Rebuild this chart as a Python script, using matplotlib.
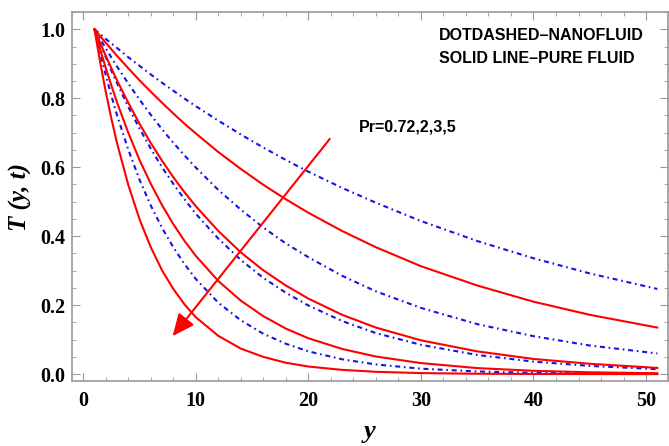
import matplotlib.pyplot as plt
from matplotlib.ticker import MultipleLocator

# y positions where the curves were read
y_pts = [1, 1.5, 2, 2.5, 3, 4, 5, 6, 7, 8, 9, 10, 12, 14, 16, 18, 20, 23, 26, 30, 35, 40, 45, 51]

# solid lines - pure fluid, Pr = 0.72, 2, 3, 5
pure_072 = [1.0, 0.980, 0.961, 0.942, 0.923, 0.887, 0.852, 0.819, 0.787, 0.756, 0.726, 0.698,
            0.644, 0.595, 0.549, 0.507, 0.468, 0.415, 0.368, 0.313, 0.257, 0.210, 0.172, 0.135]
pure_2 = [1.0, 0.961, 0.923, 0.887, 0.852, 0.787, 0.726, 0.670, 0.619, 0.571, 0.527, 0.487,
          0.415, 0.353, 0.301, 0.257, 0.219, 0.172, 0.135, 0.098, 0.066, 0.044, 0.030, 0.018]
pure_3 = [1.0, 0.942, 0.888, 0.837, 0.788, 0.700, 0.621, 0.552, 0.490, 0.435, 0.386, 0.343,
          0.270, 0.213, 0.168, 0.132, 0.104, 0.073, 0.051, 0.032, 0.0175, 0.0096, 0.0053, 0.0026]
pure_5 = [1.0, 0.905, 0.819, 0.741, 0.670, 0.549, 0.449, 0.368, 0.301, 0.247, 0.202, 0.165,
          0.111, 0.074, 0.050, 0.033, 0.022, 0.0123, 0.0067, 0.0030, 0.0011, 0.0004, 0.00015, 0.00005]

# dot-dashed lines - nanofluid
nano_072 = [1.0, 0.986, 0.972, 0.959, 0.946, 0.919, 0.894, 0.869, 0.845, 0.822, 0.799, 0.777,
            0.735, 0.695, 0.657, 0.621, 0.587, 0.540, 0.497, 0.444, 0.386, 0.336, 0.292, 0.247]
nano_2 = [1.0, 0.972, 0.945, 0.918, 0.892, 0.843, 0.796, 0.752, 0.710, 0.671, 0.634, 0.599,
          0.534, 0.477, 0.425, 0.379, 0.339, 0.285, 0.240, 0.192, 0.145, 0.110, 0.083, 0.060]
nano_3 = [1.0, 0.958, 0.919, 0.880, 0.844, 0.775, 0.712, 0.654, 0.600, 0.552, 0.507, 0.465,
          0.393, 0.331, 0.279, 0.236, 0.199, 0.154, 0.119, 0.085, 0.0556, 0.0363, 0.0238, 0.0143]
nano_5 = [1.0, 0.931, 0.867, 0.807, 0.751, 0.651, 0.564, 0.489, 0.424, 0.368, 0.319, 0.276,
          0.207, 0.156, 0.117, 0.088, 0.066, 0.043, 0.028, 0.0158, 0.0077, 0.0038, 0.0019, 0.0008]

pure = [pure_072, pure_2, pure_3, pure_5]
nano = [nano_072, nano_2, nano_3, nano_5]

fig = plt.figure(figsize=(6.69, 4.46), dpi=100)
ax = fig.add_axes([0.1076, 0.1457, 0.8909, 0.8273])

for t in nano:
    ax.plot(y_pts, t, color='#1414e6', lw=1.5, dashes=(2.4, 1.8, 0.8, 1.8))
for t in pure:
    ax.plot(y_pts, t, color='#ff0000', lw=1.5)

# Pr arrow
ax.annotate('', xy=(7.94, 0.11), xytext=(21.9, 0.682),
            arrowprops=dict(arrowstyle='-|>,head_length=0.45,head_width=0.2',
                            color='#ff0000', lw=1.5, mutation_scale=30,
                            shrinkA=0, shrinkB=0))

ax.text(24.5, 0.717, 'Pr=0.72,2,3,5', fontsize=11.5, fontweight='bold',
        family='Liberation Sans', va='center', ha='left')
ax.text(31.6, 0.983, 'DOTDASHED\u2013NANOFLUID', fontsize=11.5, fontweight='bold',
        family='Liberation Sans', va='center', ha='left')
ax.text(31.6, 0.915, 'SOLID LINE\u2013PURE FLUID', fontsize=11.5, fontweight='bold',
        family='Liberation Sans', va='center', ha='left')

ax.set_xlim(-1, 51.95)
ax.set_ylim(-0.02, 1.05)
ax.xaxis.set_major_locator(MultipleLocator(10))
ax.xaxis.set_minor_locator(MultipleLocator(2))
ax.yaxis.set_minor_locator(MultipleLocator(0.05))
ax.set_yticks([0, 0.2, 0.4, 0.6, 0.8, 1.0])
ax.set_yticklabels(['0.0', '0.2', '0.4', '0.6', '0.8', '1.0'])

ax.tick_params(which='both', direction='in', top=True, right=True, color='#999999')
ax.tick_params(which='major', length=6, width=0.8)
ax.tick_params(which='minor', length=3, width=0.6)
ax.tick_params(axis='y', pad=4.5)
ax.tick_params(axis='x', pad=7)
for lab in ax.get_xticklabels() + ax.get_yticklabels():
    lab.set_fontfamily('Liberation Serif')
    lab.set_fontweight('bold')
    lab.set_fontsize(14.5)

for sp in ax.spines.values():
    sp.set_color('#999999')
    sp.set_linewidth(1.2)

ax.set_xlabel('y', fontsize=19, family='Liberation Serif', fontweight='bold',
              style='italic', labelpad=7)
ax.set_ylabel('T (y, t)', fontsize=18, family='Liberation Serif', fontweight='bold',
              style='italic', labelpad=6)

fig.savefig('out.png', dpi=100)
